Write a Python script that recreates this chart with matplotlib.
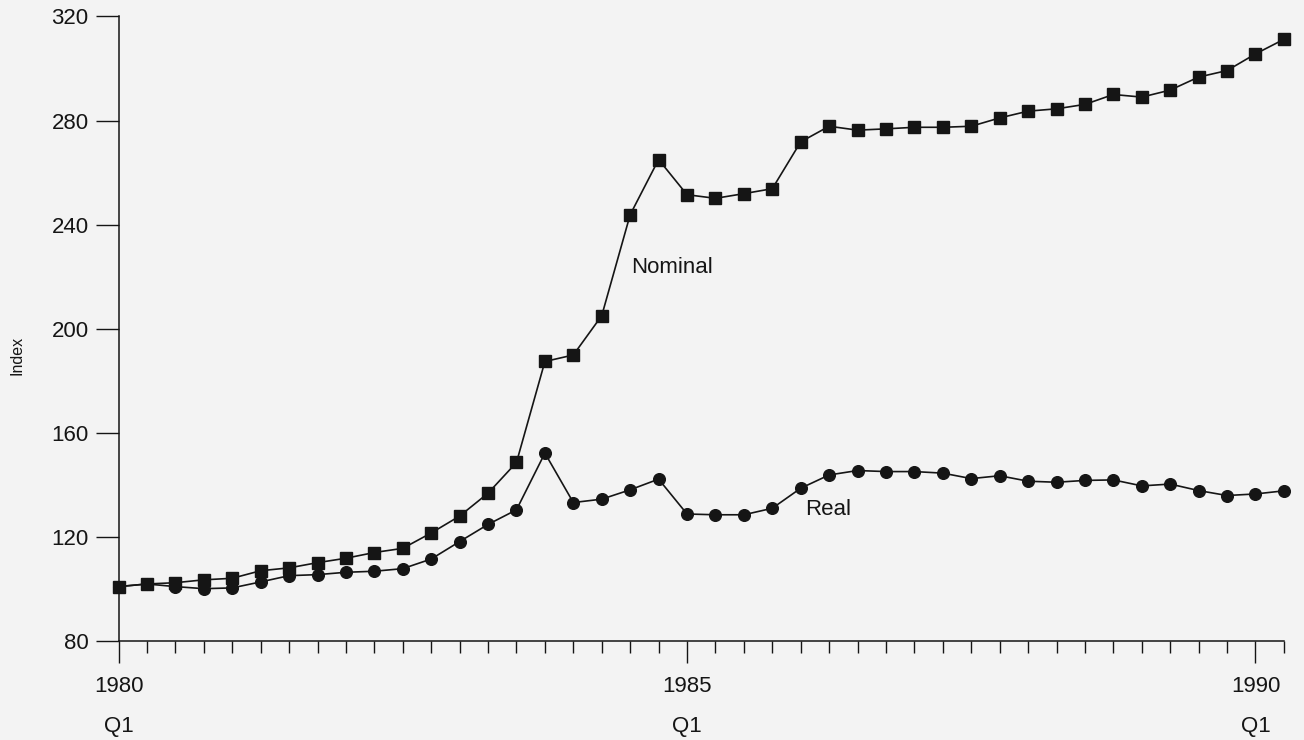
import numpy as np
import matplotlib
matplotlib.use("Agg")
import matplotlib.pyplot as plt
from matplotlib.ticker import FixedLocator

# ---- data (quarterly, 1980 Q1 .. 1990 Q2) ----
nominal = [100.9, 101.9, 102.4, 103.5, 104.1, 107.0, 108.1, 110.1, 111.8, 114.0,
           115.6, 121.5, 128.0, 136.8, 148.6, 187.4, 189.9, 205.0, 243.8, 265.0,
           251.5, 250.1, 251.9, 253.8, 271.8, 277.8, 276.3, 276.8, 277.4, 277.4,
           277.8, 281.0, 283.6, 284.5, 286.2, 290.0, 289.0, 291.7, 296.7, 299.2,
           305.6, 311.2]
real = [100.9, 101.9, 100.9, 100.1, 100.4, 102.7, 105.1, 105.5, 106.4, 106.8,
        107.8, 111.5, 118.2, 124.8, 130.4, 152.2, 133.2, 134.5, 138.1, 142.2,
        128.8, 128.5, 128.5, 131.0, 138.7, 143.8, 145.5, 145.1, 145.1, 144.5,
        142.4, 143.5, 141.4, 141.0, 141.7, 141.9, 139.6, 140.3, 137.8, 135.9,
        136.5, 137.7]
major_ticks = [0, 20, 40]
major_labels = ["1980\nQ1", "1985\nQ1", "1990\nQ1"]
y_ticks = [80, 120, 160, 200, 240, 280, 320]

FONT = ["Liberation Sans", "DejaVu Sans"]
plt.rcParams["font.family"] = FONT
INK = "#151515"
BG = "#f3f3f3"

fig = plt.figure(figsize=(13.04, 7.40), dpi=100, facecolor=BG)
ax = fig.add_axes([0.0909, 0.1338, 0.8937, 0.8440], facecolor=BG)

x = np.arange(len(nominal))
ax.plot(x, nominal, color=INK, lw=1.2, marker="s", markersize=8.6,
        markerfacecolor=INK, markeredgecolor=INK, clip_on=False, zorder=3)
ax.plot(x, real, color=INK, lw=1.2, marker="o", markersize=8.4,
        markerfacecolor=INK, markeredgecolor=INK, clip_on=False, zorder=3)

ax.set_xlim(0, 41)
ax.set_ylim(80, 320)

for s in ("top", "right"):
    ax.spines[s].set_visible(False)
for s in ("left", "bottom"):
    ax.spines[s].set_color(INK)
    ax.spines[s].set_linewidth(1.1)

ax.xaxis.set_major_locator(FixedLocator(major_ticks))
ax.xaxis.set_minor_locator(FixedLocator(list(range(0, 42))))
ax.set_xticklabels(major_labels)
for lab in ax.get_xticklabels():
    lab.set_linespacing(2.15)
ax.tick_params(axis="x", which="major", length=16, width=1.0, color=INK,
               pad=9.5, labelsize=16, labelcolor=INK)
ax.tick_params(axis="x", which="minor", length=8.6, width=1.0, color=INK)

ax.set_yticks(y_ticks)
ax.tick_params(axis="y", which="major", length=16.5, width=1.0, color=INK,
               pad=5, labelsize=16, labelcolor=INK)

fig.text(0.013, 0.52, "Index", rotation=90, ha="center", va="center",
         fontsize=11.5, color=INK)

ax.text(18.05, 223.7, "Nominal", ha="left", va="center", fontsize=16, color=INK)
ax.text(24.96, 130.4, "Real", ha="center", va="center", fontsize=16, color=INK)

fig.savefig("out.png", dpi=100, facecolor=BG)
